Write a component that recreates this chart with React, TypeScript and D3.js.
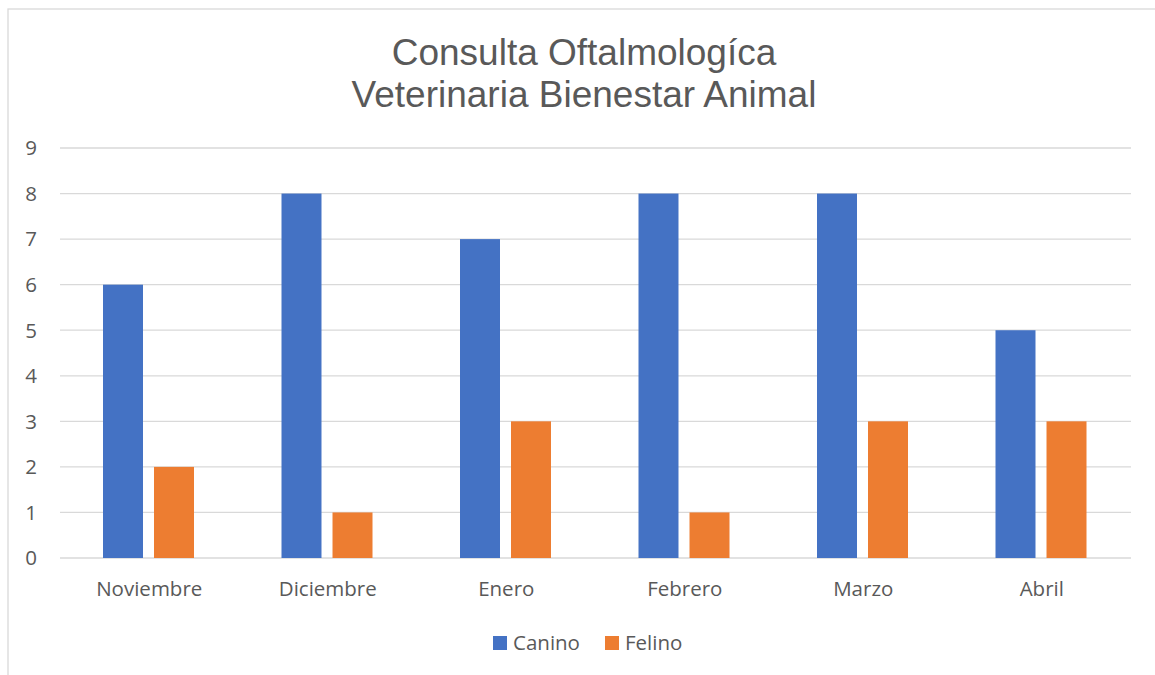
import React from "react";
import * as d3 from "d3";

const categories = ["Noviembre", "Diciembre", "Enero", "Febrero", "Marzo", "Abril"];
const seriesNames = ["Canino", "Felino"];
const canino = [6, 8, 7, 8, 8, 5];
const felino = [2, 1, 3, 1, 3, 3];
const yTicks = [0, 1, 2, 3, 4, 5, 6, 7, 8, 9];
const titleLines = ["Consulta Oftalmologíca", "Veterinaria Bienestar Animal"];
const colors = ["#4472C4", "#ED7D31"];

const W = 1155;
const H = 675;
const plotLeft = 60;
const plotRight = 1131;
const plotTop = 148;
const plotBottom = 558;
const font = "'Open Sans', 'Segoe UI', sans-serif";
const titleFont = "'Liberation Sans', Arial, sans-serif";
const textColor = "#595959";

export default function App() {
  const x = d3.scaleBand<string>().domain(categories).range([plotLeft, plotRight]).padding(0);
  const inner = d3.scaleBand<string>().domain(seriesNames).range([43, 134]).paddingInner(0.216).paddingOuter(0);
  const y = d3.scaleLinear().domain([0, 9]).range([plotBottom, plotTop]);
  const values = [canino, felino];

  return (
    <svg width={W} height={H} style={{ position: "absolute", left: 0, top: 0, background: "#fff" }}>
      <rect x={8} y={9} width={1170} height={700} fill="#fff" stroke="#d9d9d9" strokeWidth={1.3} />
      {titleLines.map((t, i) => (
        <text key={t} x={584} y={65 + i * 42} textAnchor="middle" fontFamily={titleFont} fontSize={37} fill={textColor}>
          {t}
        </text>
      ))}
      {yTicks.map((v) => (
        <g key={v}>
          <line x1={plotLeft} x2={plotRight} y1={y(v)} y2={y(v)} stroke="#d9d9d9" strokeWidth={1.3} />
          <text x={37} y={y(v)} dy="0.36em" textAnchor="end" fontFamily={font} fontSize={20.5} fill={textColor}>
            {v}
          </text>
        </g>
      ))}
      {seriesNames.map((s, si) =>
        categories.map((c, ci) => (
          <rect
            key={s + c}
            x={(x(c) as number) + (inner(s) as number)}
            y={y(values[si][ci])}
            width={inner.bandwidth()}
            height={plotBottom - y(values[si][ci])}
            fill={colors[si]}
          />
        ))
      )}
      {categories.map((c) => (
        <text key={c} x={(x(c) as number) + x.bandwidth() / 2} y={596} textAnchor="middle" fontFamily={font} fontSize={20.5} fill={textColor}>
          {c}
        </text>
      ))}
      {seriesNames.map((s, si) => {
        const lx = si === 0 ? 493 : 605;
        return (
          <g key={s}>
            <rect x={lx} y={636} width={14} height={14} fill={colors[si]} />
            <text x={lx + 20} y={650} fontFamily={font} fontSize={20.5} fill={textColor}>
              {s}
            </text>
          </g>
        );
      })}
    </svg>
  );
}
